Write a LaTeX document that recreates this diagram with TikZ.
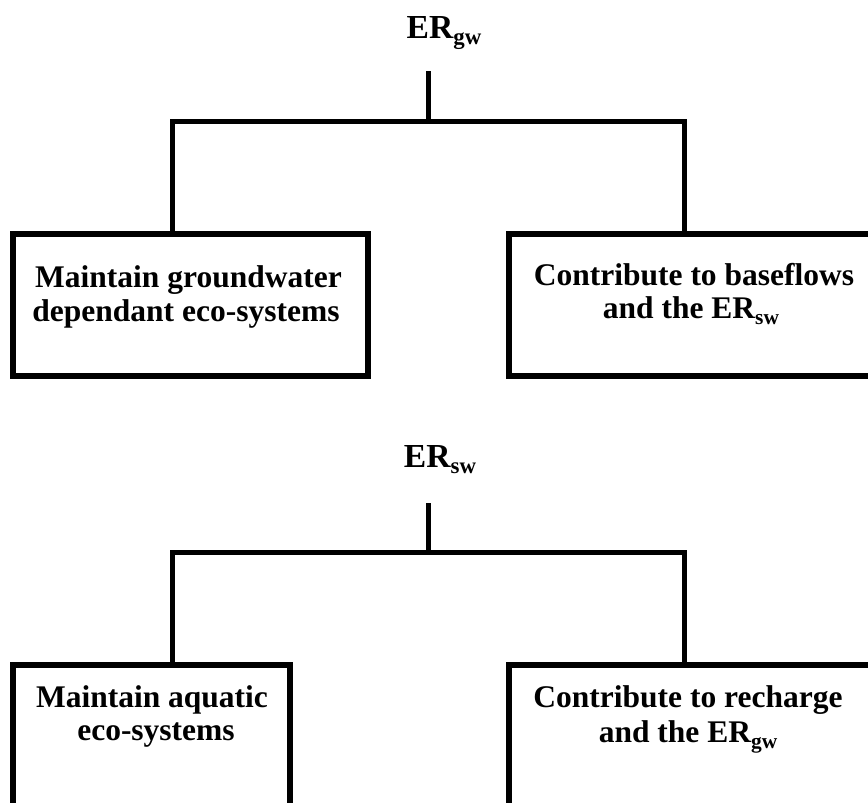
\documentclass[tikz,border=0pt]{standalone}
\usepackage{fontspec}
\setmainfont{Liberation Serif}
\newcommand\subtx[1]{\raisebox{-0.2em}{\scalebox{0.68}{#1}}}
\tikzset{
  boxnode/.style={draw=black, line width=5.5pt, rectangle, inner sep=0pt, fill=white},
  txt/.style={anchor=base, inner sep=0pt, font=\fontsize{31.5}{35}\selectfont\bfseries},
  ttl/.style={anchor=base, inner sep=0pt, font=\fontsize{33.6}{38}\selectfont\bfseries},
  link/.style={draw=black, line width=5pt, line join=miter, line cap=rect}
}
\begin{document}
\begin{tikzpicture}[x=1pt, y=-1pt]
\useasboundingbox (0,0) rectangle (868,803);
\clip (0,0) rectangle (868,803);
\fill[white] (0,0) rectangle (868,803);

% ---------- upper tree ----------
\node[ttl] (t1) at (444,38) {ER\subtx{gw}};
\coordinate (t1s) at (428,73);
\coordinate (t1j) at (428,121.5);
\coordinate (t1l) at (172.5,234);
\coordinate (t1r) at (684.5,234);

\node[boxnode, minimum width=355pt, minimum height=142pt] (ul) at (190.5,305) {};
\node[boxnode, minimum width=370pt, minimum height=142pt] (ur) at (694,305) {};

\draw[link] (t1s) -- (t1j);
\draw[link] (t1l) |- (t1j) -| (t1r);

\node[txt] (ul1) at (188.5,287.5) {Maintain groundwater};
\node[txt] (ul2) at (186,321) {dependant eco-systems};
\node[txt] (ur1) at (694,285) {Contribute to baseflows};
\node[txt] (ur2) at (691,318) {and the ER\subtx{sw}};

% ---------- lower tree ----------
\node[ttl] (t2) at (440,467) {ER\subtx{sw}};
\coordinate (t2s) at (428,505);
\coordinate (t2j) at (428,552.5);
\coordinate (t2l) at (172.5,665);
\coordinate (t2r) at (684.5,665);

\node[boxnode, minimum width=277pt, minimum height=150pt] (ll) at (151.5,740) {};
\node[boxnode, minimum width=370pt, minimum height=150pt] (lr) at (694,740) {};

\draw[link] (t2s) -- (t2j);
\draw[link] (t2l) |- (t2j) -| (t2r);

\node[txt] (ll1) at (152,707) {Maintain aquatic};
\node[txt] (ll2) at (156,740) {eco-systems};
\node[txt] (lr1) at (688,707) {Contribute to recharge};
\node[txt] (lr2) at (688,742) {and the ER\subtx{gw}};
\end{tikzpicture}
\end{document}
